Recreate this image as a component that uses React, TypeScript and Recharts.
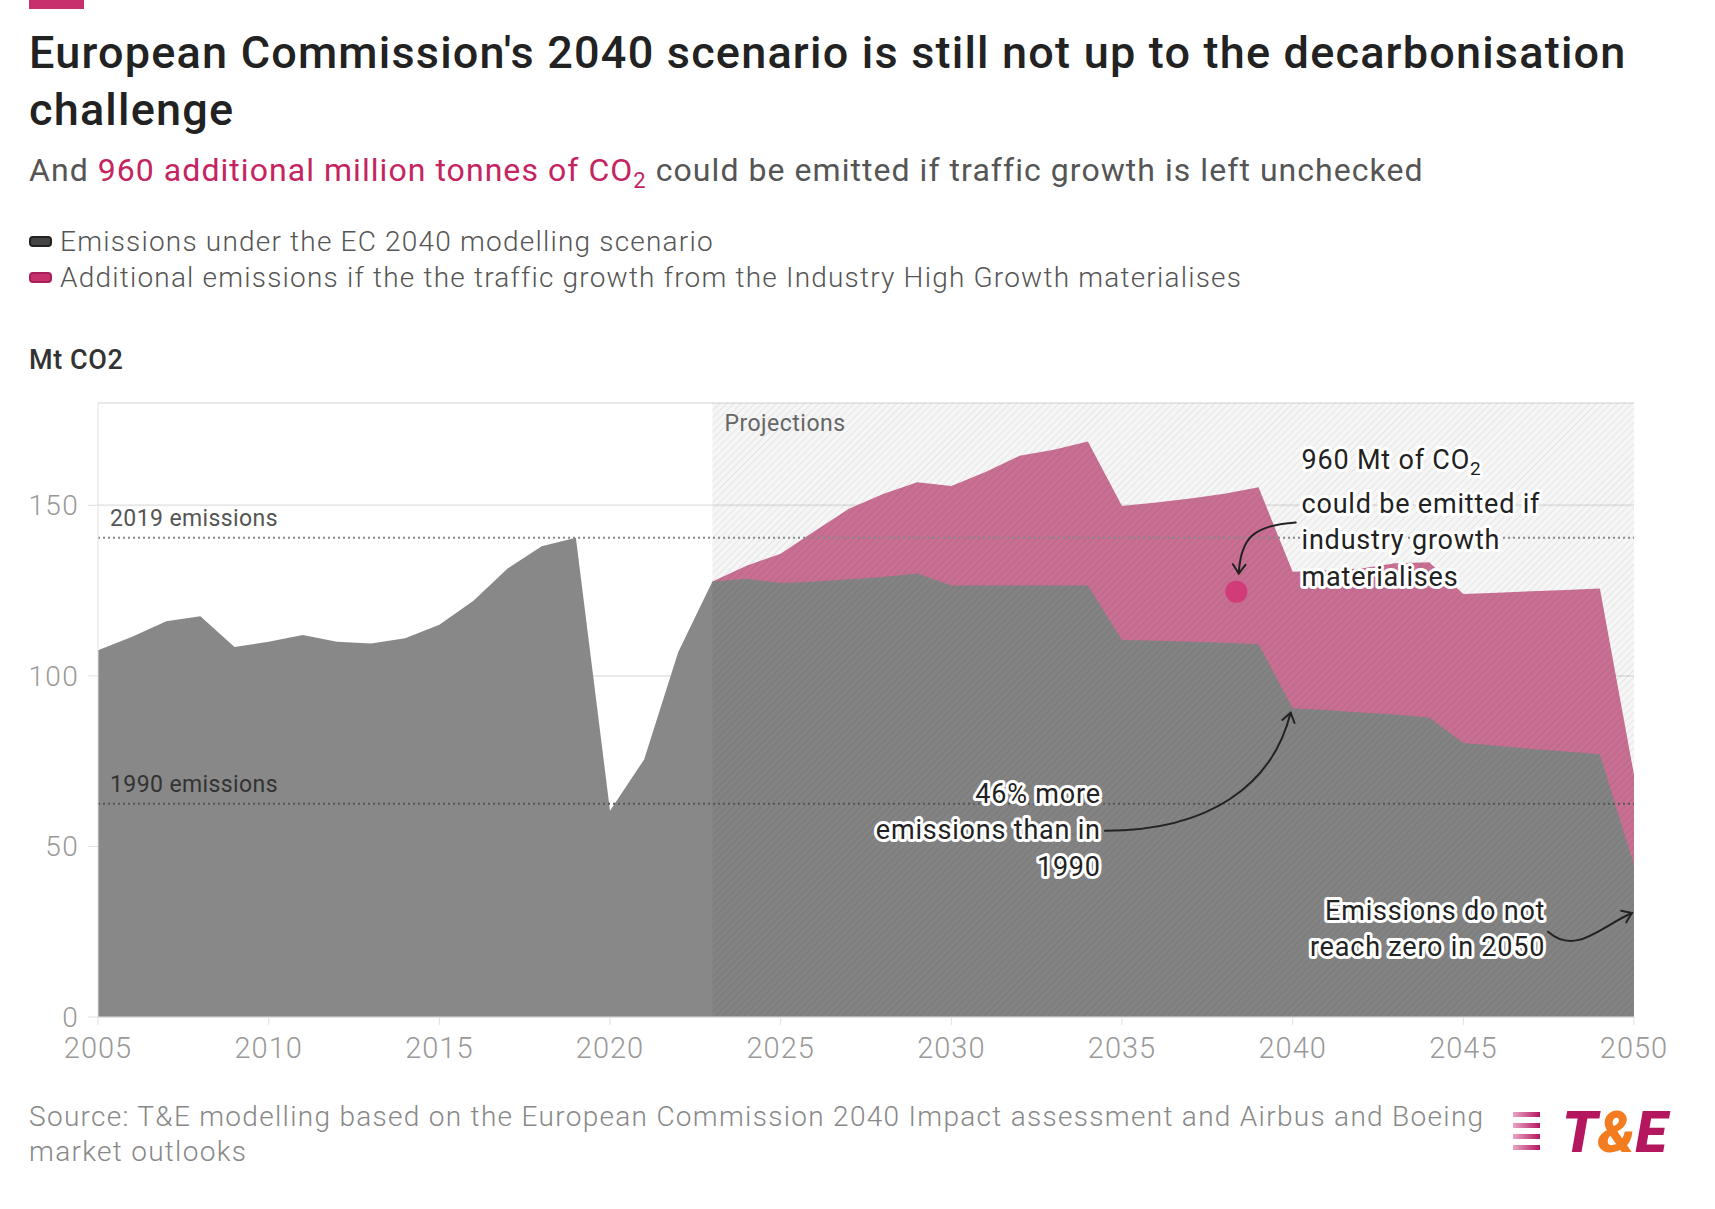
import React from "react";
import {
  Area,
  AreaChart,
  CartesianGrid,
  ReferenceArea,
  ReferenceDot,
  ReferenceLine,
  XAxis,
  YAxis,
} from "recharts";

// Years on the x axis
const years = [
  2005, 2006, 2007, 2008, 2009, 2010, 2011, 2012, 2013, 2014, 2015, 2016,
  2017, 2018, 2019, 2020, 2021, 2022, 2023, 2024, 2025, 2026, 2027, 2028,
  2029, 2030, 2031, 2032, 2033, 2034, 2035, 2036, 2037, 2038, 2039, 2040,
  2041, 2042, 2043, 2044, 2045, 2046, 2047, 2048, 2049, 2050,
];

// Mt CO2 under the EC 2040 modelling scenario (history + projection)
const ecScenario = [
  107.5, 111.5, 116, 117.5, 108.5, 110, 112, 110, 109.5, 111, 115, 122,
  131.5, 138, 140.5, 60.5, 75.5, 107, 127.7, 128.5, 127.2, 127.6, 128.3, 129,
  130, 126.5, 126.5, 126.5, 126.5, 126.5, 110.5, 110.3, 110, 109.7, 109.3,
  90.5, 90, 89.3, 88.7, 87.8, 80.3, 79.5, 78.6, 77.8, 77, 44.5,
];

// Total Mt CO2 if Industry High Growth traffic materialises (projection only)
const highGrowthTotal = [
  null, null, null, null, null, null, null, null, null, null, null, null,
  null, null, null, null, null, null, 127.7, 132.3, 135.8, 142.5, 149, 153.3,
  156.8, 155.7, 159.8, 164.5, 166.3, 168.7, 149.8, 150.8, 152, 153.4, 155.3,
  130.5, 131, 131.5, 133, 133.3, 124, 124.4, 124.8, 125.2, 125.6, 71,
];

const xTicks = [2005, 2010, 2015, 2020, 2025, 2030, 2035, 2040, 2045, 2050];
const yTicks = [0, 50, 100, 150];

const projectionStart = 2023;
const projectionEnd = 2050;
const emissions2019 = 140.5;
const emissions1990 = 62.5;

const GREY = "#888888";
const PINK = "#cf7398";
const CRIMSON = "#c8306c";
const FONT = "Roboto, 'Noto Sans', sans-serif";

const data = years.map((year, i) => ({
  year,
  ec: ecScenario[i],
  total: highGrowthTotal[i],
}));

const legendItems = [
  { label: "Emissions under the EC 2040 modelling scenario", color: "#444", border: "#222" },
  {
    label:
      "Additional emissions if the the traffic growth from the Industry High Growth materialises",
    color: CRIMSON,
    border: "#a8205a",
  },
];

// annotation anchors in data space
const notes = [
  {
    x: 2040.26,
    y: 163.3,
    anchor: "start",
    lines: [
      { text: "960 Mt of CO", sub: "2", dy: 0 },
      { text: "could be emitted if", dy: 44.5 },
      { text: "industry growth", dy: 80.5 },
      { text: "materialises", dy: 117 },
    ],
  },
  {
    x: 2034.38,
    y: 65.5,
    anchor: "end",
    lines: [
      { text: "46% more", dy: 0 },
      { text: "emissions than in", dy: 36.5 },
      { text: "1990", dy: 73 },
    ],
  },
  {
    x: 2047.4,
    y: 31.1,
    anchor: "end",
    lines: [
      { text: "Emissions do not", dy: 0 },
      { text: "reach zero in 2050", dy: 36 },
    ],
  },
];

const arrows = [
  { from: { x: 2040.09, y: 145 }, to: { x: 2038.42, y: 130 }, c1: [-42, 3], c2: [2, -36] },
  { from: { x: 2034.5, y: 54.6 }, to: { x: 2039.94, y: 89.2 }, c1: [105, 0], c2: [-18, 72] },
  { from: { x: 2047.48, y: 25 }, to: { x: 2049.94, y: 30.5 }, c1: [28, 24], c2: [-32, 14] },
];

const calloutDot = { x: 2038.35, y: 124.7 };

function NoteText({ cx, cy, anchor, lines }: any) {
  return (
    <g>
      {lines.map((l: any, i: number) => (
        <text
          key={i}
          x={cx}
          y={cy + l.dy + 9}
          textAnchor={anchor}
          fontSize={27}
          letterSpacing={0.8}
          fontFamily={FONT}
          fill="#222"
          stroke="#fff"
          strokeWidth={6}
          strokeLinejoin="round"
          paintOrder="stroke"
        >
          {l.text}
          {l.sub ? (
            <tspan dy={6} fontSize={19}>
              {l.sub}
            </tspan>
          ) : null}
        </text>
      ))}
    </g>
  );
}

function CurvedArrow({ x1, y1, x2, y2, c1, c2 }: any) {
  const ax = x1 + c1[0];
  const ay = y1 + c1[1];
  const bx = x2 + c2[0];
  const by = y2 + c2[1];
  const ang = Math.atan2(y2 - by, x2 - bx);
  const len = 11;
  const spread = (35 * Math.PI) / 180;
  const h1x = x2 - len * Math.cos(ang - spread);
  const h1y = y2 - len * Math.sin(ang - spread);
  const h2x = x2 - len * Math.cos(ang + spread);
  const h2y = y2 - len * Math.sin(ang + spread);
  return (
    <g fill="none" stroke="#222" strokeWidth={2} strokeLinecap="round">
      <path d={`M${x1},${y1} C${ax},${ay} ${bx},${by} ${x2},${y2}`} />
      <path d={`M${h1x},${h1y} L${x2},${y2} L${h2x},${h2y}`} />
    </g>
  );
}

function Logo() {
  return (
    <svg width={180} height={70} style={{ position: "absolute", left: 1508, top: 1098 }}>
      <defs>
        <linearGradient id="stripe" x1="0" x2="1" y1="0" y2="0">
          <stop offset="0%" stopColor="#eaa6c4" />
          <stop offset="100%" stopColor="#b5175f" />
        </linearGradient>
      </defs>
      {[0, 1, 2, 3].map((i) => (
        <rect key={i} x={5} y={14 + i * 11} width={27} height={5} fill="url(#stripe)" />
      ))}
      <text
        x={54}
        y={54}
        fontFamily={FONT}
        fontWeight={900}
        fontStyle="italic"
        fontSize={58}
        fill="#b5175f"
      >
        T<tspan fill="#f47c20">&amp;</tspan>E
      </text>
    </svg>
  );
}

export default function App() {
  return (
    <div
      style={{
        position: "absolute",
        left: 0,
        top: 0,
        width: 1715,
        height: 1209,
        background: "#fff",
        fontFamily: FONT,
        overflow: "hidden",
      }}
    >
      <div style={{ position: "absolute", left: 29, top: 0, width: 55, height: 9, background: CRIMSON }} />
      <div
        style={{
          position: "absolute",
          left: 29,
          top: 24,
          width: 1680,
          fontSize: 45,
          letterSpacing: 1.2,
          lineHeight: "57px",
          fontWeight: 500,
          color: "#222",
          whiteSpace: "nowrap",
        }}
      >
        European Commission's 2040 scenario is still not up to the decarbonisation
        <br />
        challenge
      </div>
      <div
        style={{
          position: "absolute",
          left: 29,
          top: 151,
          fontSize: 32,
          letterSpacing: 1.05,
          lineHeight: "38px",
          color: "#555",
          whiteSpace: "nowrap",
        }}
      >
        And{" "}
        <span style={{ color: "#c4245f" }}>
          960 additional million tonnes of CO<sub style={{ fontSize: 22, lineHeight: 0 }}>2</sub>
        </span>{" "}
        could be emitted if traffic growth is left unchecked
      </div>
      <div style={{ position: "absolute", left: 29, top: 223 }}>
        {legendItems.map((it) => (
          <div
            key={it.label}
            style={{
              display: "flex",
              alignItems: "center",
              height: 36,
              fontSize: 28,
              letterSpacing: 1.2,
              fontWeight: 300,
              color: "#555",
              whiteSpace: "nowrap",
            }}
          >
            <span
              style={{
                display: "inline-block",
                width: 19,
                height: 7,
                borderRadius: 4,
                background: it.color,
                border: `2px solid ${it.border}`,
                marginRight: 8,
              }}
            />
            {it.label}
          </div>
        ))}
      </div>
      <div
        style={{
          position: "absolute",
          left: 29,
          top: 344,
          fontSize: 27,
          letterSpacing: 0.6,
          lineHeight: "32px",
          fontWeight: 500,
          color: "#333",
        }}
      >
        Mt CO2
      </div>

      <div style={{ position: "absolute", left: 0, top: 380 }}>
        <AreaChart
          width={1715}
          height={720}
          data={data}
          margin={{ top: 23, right: 81, bottom: 23, left: 0 }}
        >
          <defs>
            <pattern id="projHatch" width={5} height={5} patternUnits="userSpaceOnUse" patternTransform="rotate(45)">
              <rect width={5} height={5} fill="rgba(0,0,0,0.035)" />
              <line x1={0} y1={0} x2={0} y2={5} stroke="rgba(0,0,0,0.07)" strokeWidth={2} />
            </pattern>
          </defs>
          <CartesianGrid vertical={false} stroke="#e9e9e9" strokeWidth={2} />
          <XAxis
            dataKey="year"
            type="number"
            domain={[2005, 2050]}
            ticks={xTicks}
            height={60}
            tickSize={8}
            tickMargin={12}
            axisLine={{ stroke: "#e0e0e0" }}
            tickLine={{ stroke: "#e0e0e0" }}
            tick={{ fontSize: 29, letterSpacing: 1, fontWeight: 300, fill: "#999", fontFamily: FONT }}
          />
          <YAxis
            domain={[0, 180]}
            ticks={yTicks}
            width={98}
            tickSize={10}
            tickMargin={9}
            axisLine={{ stroke: "#e0e0e0" }}
            tickLine={{ stroke: "#e0e0e0" }}
            tick={{ fontSize: 28, letterSpacing: 1.3, fontWeight: 300, fill: "#999", fontFamily: FONT }}
          />
          <Area
            type="linear"
            dataKey="total"
            fill={PINK}
            fillOpacity={1}
            stroke="none"
            isAnimationActive={false}
          />
          <Area
            type="linear"
            dataKey="ec"
            fill={GREY}
            fillOpacity={1}
            stroke="none"
            isAnimationActive={false}
          />
          <ReferenceArea
            x1={projectionStart}
            x2={projectionEnd}
            y1={0}
            y2={180}
            fill="url(#projHatch)"
            fillOpacity={1}
            label={{
              value: "Projections",
              position: "insideTopLeft",
              offset: 12,
              fontSize: 23,
              letterSpacing: 0.5,
              fill: "#666",
              fontFamily: FONT,
            }}
          />
          <ReferenceLine
            y={emissions2019}
            stroke="#888"
            strokeWidth={2}
            strokeDasharray="2 3"
            label={{
              value: "2019 emissions",
              position: "insideBottomLeft",
              offset: 12,
              fontSize: 23,
              letterSpacing: 0.4,
              fill: "#555",
              fontFamily: FONT,
            }}
          />
          <ReferenceLine
            y={emissions1990}
            stroke="#555"
            strokeWidth={2}
            strokeDasharray="2 3"
            label={{
              value: "1990 emissions",
              position: "insideBottomLeft",
              offset: 12,
              fontSize: 23,
              letterSpacing: 0.4,
              fill: "#333",
              fontFamily: FONT,
            }}
          />
          <ReferenceDot x={calloutDot.x} y={calloutDot.y} r={11} fill="#d13b78" stroke="none" />
          {arrows.map((a, i) => (
            <ReferenceLine
              key={`arrow-${i}`}
              segment={[a.from, a.to]}
              ifOverflow="visible"
              shape={(p: any) => <CurvedArrow x1={p.x1} y1={p.y1} x2={p.x2} y2={p.y2} c1={a.c1} c2={a.c2} />}
            />
          ))}
          {notes.map((n, i) => (
            <ReferenceDot
              key={`note-${i}`}
              x={n.x}
              y={n.y}
              r={0}
              ifOverflow="visible"
              shape={(p: any) => <NoteText cx={p.cx} cy={p.cy} anchor={n.anchor} lines={n.lines} />}
            />
          ))}
        </AreaChart>
      </div>

      <div
        style={{
          position: "absolute",
          left: 29,
          top: 1099,
          fontSize: 28,
          letterSpacing: 1.3,
          lineHeight: "35px",
          fontWeight: 300,
          color: "#888",
          whiteSpace: "nowrap",
        }}
      >
        Source: T&amp;E modelling based on the European Commission 2040 Impact assessment and Airbus and Boeing
        <br />
        market outlooks
      </div>
      <Logo />
    </div>
  );
}
